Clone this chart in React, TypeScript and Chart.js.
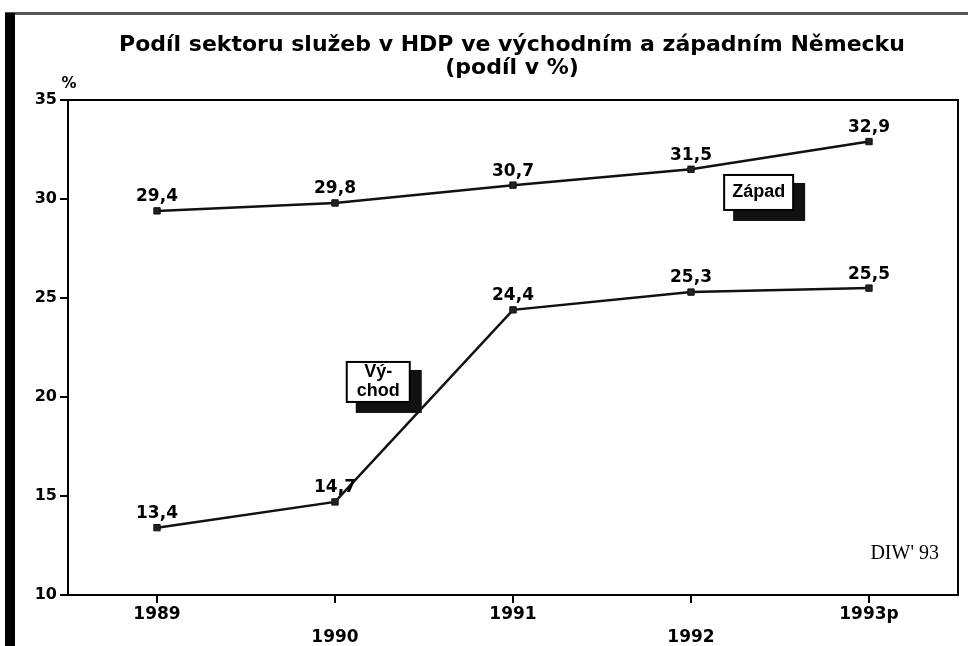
import React, { useEffect, useRef } from 'react';
import { Chart, registerables } from 'chart.js';

Chart.register(...registerables);

// ---- data ----
const categories = ['1989', '1990', '1991', '1992', '1993p'];
const zapad = [29.4, 29.8, 30.7, 31.5, 32.9];
const vychod = [13.4, 14.7, 24.4, 25.3, 25.5];
const yMin = 10;
const yMax = 35;
const yStep = 5;
const titleLines = ['Podíl sektoru služeb v HDP ve východním a západním Německu', '(podíl v %)'];
const unitLabel = '%';
const sourceLabel = "DIW' 93";
const zapadLabel = ['Západ'];
const vychodLabel = ['Vý-', 'chod'];

const BOLD = '"DejaVu Sans", sans-serif';
const SANS = '"Liberation Sans", Arial, sans-serif';

const fmt = (v: number) => v.toFixed(1).replace('.', ',');

const decorPlugin = {
  id: 'decor',
  beforeDraw(chart: any) {
    const { ctx } = chart;
    ctx.save();
    ctx.fillStyle = '#fff';
    ctx.fillRect(0, 0, chart.width, chart.height);
    // outer frame: thick left bar and top rule
    ctx.fillStyle = '#555';
    ctx.fillRect(5, 12, chart.width - 5, 3);
    ctx.fillStyle = '#000';
    ctx.fillRect(5, 13, 10, chart.height - 13);
    // title
    ctx.fillStyle = '#000';
    ctx.font = `bold 22px ${BOLD}`;
    ctx.textAlign = 'center';
    ctx.textBaseline = 'middle';
    titleLines.forEach((s, k) => ctx.fillText(s, 512, 45 + k * 23));
    ctx.restore();
  },
  afterDraw(chart: any) {
    const { ctx, chartArea, scales } = chart;
    const xs = scales.x;
    const ys = scales.y;
    ctx.save();
    // plot box
    ctx.strokeStyle = '#000';
    ctx.lineWidth = 2;
    ctx.strokeRect(chartArea.left, chartArea.top, chartArea.right - chartArea.left, chartArea.bottom - chartArea.top);

    // value labels
    ctx.fillStyle = '#000';
    ctx.font = `bold 17px ${BOLD}`;
    ctx.textAlign = 'center';
    ctx.textBaseline = 'middle';
    chart.data.datasets.forEach((ds: any, di: number) => {
      const meta = chart.getDatasetMeta(di);
      meta.data.forEach((pt: any, i: number) => {
        ctx.fillText(fmt(ds.data[i]), pt.x, pt.y - 14);
      });
    });

    // unit label
    ctx.font = `bold 15px ${BOLD}`;
    ctx.fillText(unitLabel, chartArea.left + 1, chartArea.top - 16);

    // source label
    ctx.font = '20px "Liberation Serif", "Times New Roman", serif';
    ctx.textAlign = 'right';
    ctx.fillText(sourceLabel, chartArea.right - 19, chartArea.bottom - 41);

    // series boxes
    const drawBox = (idx: number, val: number, w: number, h: number, lines: string[]) => {
      const cx = xs.getPixelForValue(idx);
      const cy = ys.getPixelForValue(val);
      const l = cx - w / 2;
      const t = cy - h / 2;
      ctx.fillStyle = '#111';
      ctx.fillRect(l + 9, t + 8, w + 3, h + 3);
      ctx.fillStyle = '#fff';
      ctx.fillRect(l, t, w, h);
      ctx.strokeStyle = '#000';
      ctx.lineWidth = 2;
      ctx.strokeRect(l, t, w, h);
      ctx.fillStyle = '#000';
      ctx.font = `bold 18px ${SANS}`;
      ctx.textAlign = 'center';
      ctx.textBaseline = 'middle';
      const lh = 19;
      lines.forEach((s, k) => {
        ctx.fillText(s, cx, cy + (k - (lines.length - 1) / 2) * lh);
      });
    };
    drawBox(3.38, 30.33, 69, 35, zapadLabel);
    drawBox(1.243, 20.76, 63, 40, vychodLabel);
    ctx.restore();
  },
};

export default function App() {
  const ref = useRef<HTMLCanvasElement | null>(null);
  useEffect(() => {
    if (!ref.current) return;
    const common = {
      borderColor: '#111',
      backgroundColor: '#222',
      borderWidth: 2.5,
      pointStyle: 'rect',
      pointRadius: 4.5,
      pointBorderWidth: 1,
      tension: 0,
      fill: false,
    };
    const chart = new Chart(ref.current, {
      type: 'line',
      data: {
        labels: categories,
        datasets: [
          { label: 'Západ', data: zapad, ...common },
          { label: 'Východ', data: vychod, ...common },
        ],
      },
      options: {
        animation: false,
        responsive: false,
        maintainAspectRatio: false,
        layout: { padding: { left: 0, right: 10, top: 100, bottom: 0 } },
        plugins: {
          legend: { display: false },
          tooltip: { enabled: false },
          title: { display: false },
        },
        scales: {
          x: {
            type: 'category',
            offset: true,
            afterFit: (s: any) => { s.height = 51; },
            grid: { display: true, drawOnChartArea: false, drawTicks: true, tickLength: 8, color: '#000', lineWidth: 2, offset: false },
            border: { display: true, color: '#000', width: 2 },
            ticks: {
              color: '#000',
              padding: 1,
              autoSkip: false,
              maxRotation: 0,
              font: { family: BOLD, size: 17, weight: 'bold', lineHeight: 1.3 },
              callback: (_v: any, i: number) => (i % 2 === 1 ? ['', categories[i]] : categories[i]),
            },
          },
          y: {
            min: yMin,
            max: yMax,
            afterFit: (s: any) => { s.width = 68; },
            grid: { display: true, drawOnChartArea: false, drawTicks: true, tickLength: 8, color: '#000', lineWidth: 2 },
            border: { display: true, color: '#000', width: 2 },
            ticks: {
              stepSize: yStep,
              color: '#000',
              padding: 3,
              font: { family: BOLD, size: 16, weight: 'bold' },
            },
          },
        },
      },
      plugins: [decorPlugin],
    } as any);
    return () => chart.destroy();
  }, []);
  return (
    <div style={{ position: 'absolute', left: 0, top: 0, width: 968, height: 646, background: '#fff' }}>
      <canvas ref={ref} width={968} height={646} style={{ width: 968, height: 646, display: 'block' }} />
    </div>
  );
}
